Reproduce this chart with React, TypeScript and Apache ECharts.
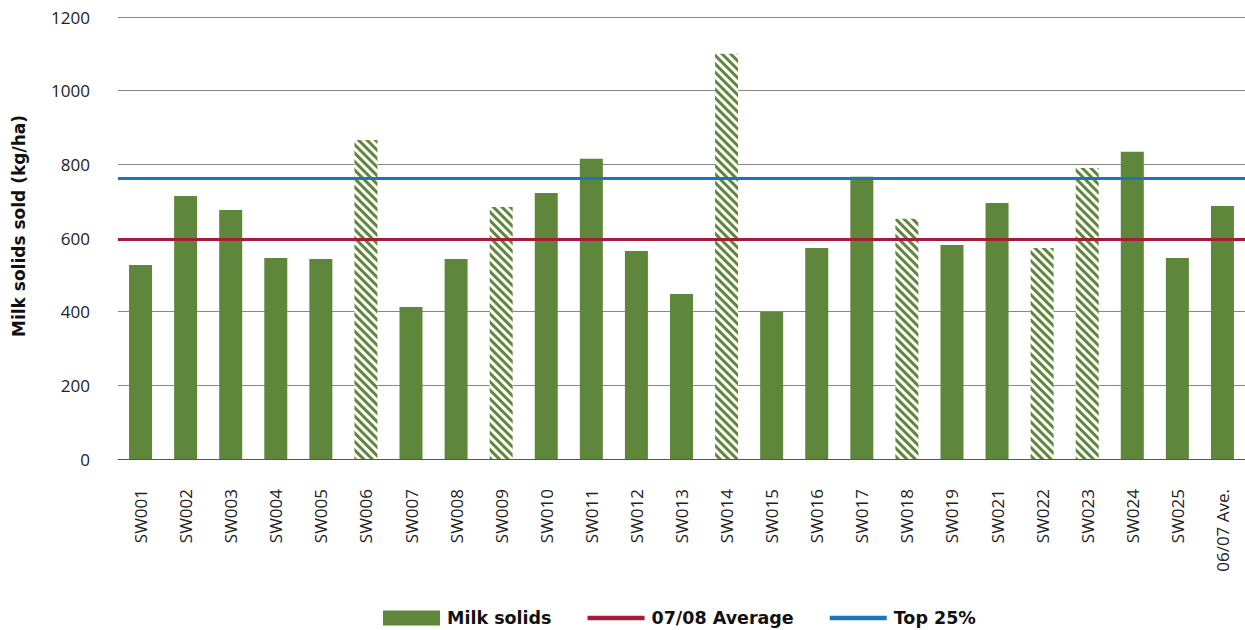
import React, { useEffect, useRef } from "react";
import * as echarts from "echarts";

const categories = ["SW001","SW002","SW003","SW004","SW005","SW006","SW007","SW008","SW009","SW010","SW011","SW012","SW013","SW014","SW015","SW016","SW017","SW018","SW019","SW021","SW022","SW023","SW024","SW025","06/07 Ave."];
const milkSolids = [527,714,676,546,543,866,413,543,684,722,815,565,448,1100,399,573,766,652,581,695,573,790,834,546,687];
const hatched = ["SW006","SW009","SW014","SW018","SW022","SW023"];
const average0708 = 596;
const top25 = 763;

const GREEN = "#5e873b";
const RED = "#a51c3a";
const BLUE = "#1b75bb";
const FONT = "'Open Sans', sans-serif";
const BOLD_FONT = "'DejaVu Sans', sans-serif";
const LINE_ICON = "path://M0,0 L52,0 L52,4 L0,4 Z";

export default function App() {
  const ref = useRef<HTMLDivElement>(null);
  useEffect(() => {
    const chart = echarts.init(ref.current!, null, { renderer: "svg" });
    const barData = milkSolids.map((v, i) =>
      hatched.includes(categories[i])
        ? {
            value: v,
            itemStyle: {
              color: "#ffffff",
              decal: {
                symbol: "rect",
                symbolSize: 1,
                color: GREEN,
                dashArrayX: [1, 0],
                dashArrayY: [3, 3],
                rotation: Math.PI / 4,
              },
            },
          }
        : { value: v }
    );
    chart.setOption({
      animation: false,
      grid: { left: 118, right: 0, top: 17, bottom: 171 },
      legend: {
        top: 608,
        left: 383,
        padding: 0,
        itemGap: 36,
        itemWidth: 57,
        itemHeight: 15,
        textStyle: {
          fontFamily: BOLD_FONT,
          fontWeight: "bold",
          fontSize: 17.5,
          lineHeight: 20,
          color: "#111",
          padding: [0, 0, 0, 2],
        },
        data: [
          { name: "Milk solids", icon: "rect" },
          { name: "07/08 Average", icon: LINE_ICON },
          { name: "Top 25%", icon: LINE_ICON },
        ],
      },
      xAxis: {
        type: "category",
        data: categories,
        axisTick: { show: false },
        axisLine: { lineStyle: { color: "#555", width: 1 } },
        axisLabel: {
          rotate: 90,
          interval: 0,
          margin: 30,
          fontFamily: FONT,
          fontSize: 17,
          color: "#222",
        },
      },
      yAxis: {
        type: "value",
        min: 0,
        max: 1200,
        interval: 200,
        name: "Milk solids sold (kg/ha)",
        nameLocation: "middle",
        nameGap: 91,
        nameTextStyle: {
          fontFamily: BOLD_FONT,
          fontWeight: "bold",
          fontSize: 17,
          color: "#111",
          padding: [0, 0, 0, 24],
        },
        axisLine: { show: false },
        axisTick: { show: false },
        splitLine: { lineStyle: { color: "#888", width: 1 } },
        axisLabel: {
          fontFamily: FONT,
          fontSize: 17,
          color: "#222",
          margin: 28,
          formatter: (v: number) => String(v),
        },
      },
      series: [
        {
          name: "Milk solids",
          type: "bar",
          barWidth: 23,
          itemStyle: { color: GREEN },
          data: barData,
          z: 2,
        },
        {
          name: "07/08 Average",
          type: "line",
          data: [],
          symbol: "none",
          lineStyle: { color: RED, width: 3 },
          itemStyle: { color: RED },
          z: 3,
          markLine: {
            silent: true,
            symbol: "none",
            label: { show: false },
            lineStyle: { color: RED, width: 3, type: "solid" },
            data: [{ yAxis: average0708 }],
          },
        },
        {
          name: "Top 25%",
          type: "line",
          data: [],
          symbol: "none",
          lineStyle: { color: BLUE, width: 3 },
          itemStyle: { color: BLUE },
          z: 3,
          markLine: {
            silent: true,
            symbol: "none",
            label: { show: false },
            lineStyle: { color: BLUE, width: 3, type: "solid" },
            data: [{ yAxis: top25 }],
          },
        },
      ],
    });
    return () => chart.dispose();
  }, []);
  return <div ref={ref} style={{ width: 1245, height: 630, position: "absolute", left: 0, top: 0 }} />;
}
